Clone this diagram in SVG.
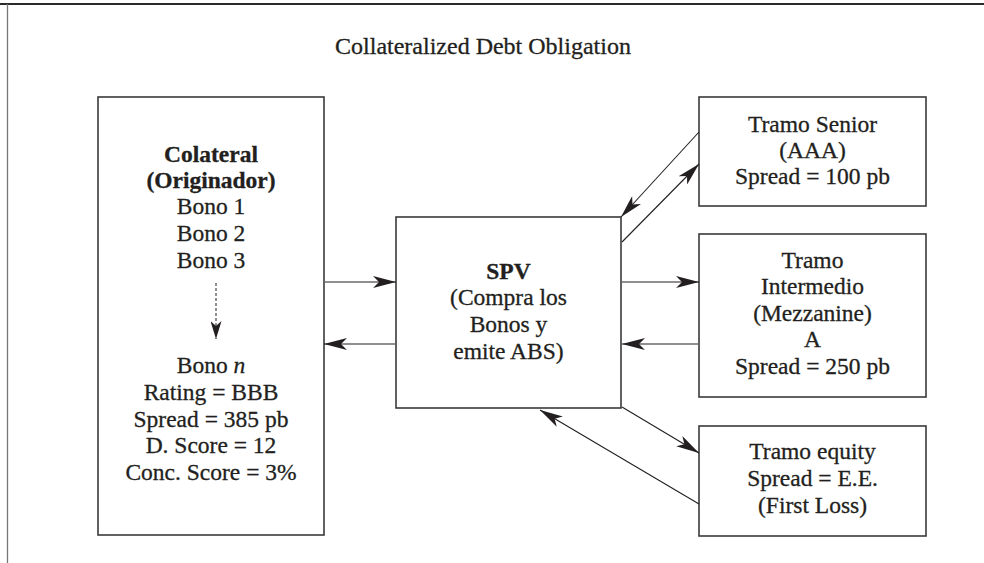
<svg xmlns="http://www.w3.org/2000/svg" width="984" height="563" viewBox="0 0 984 563">
<style>
text{font-family:"Liberation Serif","Times New Roman",serif;font-size:23.5px;fill:#231f20;stroke:#231f20;stroke-width:0.3;text-anchor:middle}
.b{font-weight:bold}
.box{fill:#fff;stroke:#3a3a3a;stroke-width:1.6}
.c{stroke:#231f20;stroke-width:1.1;fill:none;marker-end:url(#ah)}
.d{stroke:#231f20;stroke-width:1;fill:none;stroke-dasharray:3 2;marker-end:url(#ah2)}
</style>
<defs>
<marker id="ah" viewBox="0 0 23 12" refX="23" refY="6" markerWidth="23" markerHeight="12" markerUnits="userSpaceOnUse" orient="auto">
<path d="M0,0 L23,6 L0,12 L6,6 Z" fill="#231f20"/>
</marker>
<marker id="ah2" viewBox="0 0 18 11" refX="18" refY="5.5" markerWidth="18" markerHeight="11" markerUnits="userSpaceOnUse" orient="auto">
<path d="M0,0 L18,5.5 L0,11 L5,5.5 Z" fill="#231f20"/>
</marker>
</defs>
<rect width="984" height="563" fill="#fff"/>
<g id="frame">
<line x1="0" y1="4" x2="984" y2="4" stroke="#2a2a2a" stroke-width="1.8"/>
<line x1="7.5" y1="4" x2="7.5" y2="563" stroke="#777" stroke-width="1.3"/>
</g>
<g id="title"><text x="483" y="54" style="font-size:24px">Collateralized Debt Obligation</text></g>
<g id="colateral">
<rect class="box" x="98" y="97" width="226" height="438"/>
<text class="b" x="211" y="162">Colateral</text>
<text class="b" x="211" y="188">(Originador)</text>
<text x="211" y="214">Bono 1</text>
<text x="211" y="241">Bono 2</text>
<text x="211" y="268">Bono 3</text>
<text x="211" y="373">Bono <tspan font-style="italic">n</tspan></text>
<text x="211" y="400">Rating = BBB</text>
<text x="211" y="427">Spread = 385 pb</text>
<text x="211" y="453">D. Score = 12</text>
<text x="211" y="480">Conc. Score = 3%</text>
</g>
<g id="spv">
<rect class="box" x="396" y="217" width="225" height="191"/>
<text class="b" x="508.5" y="279">SPV</text>
<text x="508.5" y="305">(Compra los</text>
<text x="508.5" y="332">Bonos y</text>
<text x="508.5" y="359">emite ABS)</text>
</g>
<g id="senior">
<rect class="box" x="699" y="97" width="227" height="109"/>
<text x="812.5" y="132">Tramo Senior</text>
<text x="812.5" y="158">(AAA)</text>
<text x="812.5" y="184">Spread = 100 pb</text>
</g>
<g id="intermedio">
<rect class="box" x="699" y="234" width="227" height="163"/>
<text x="812.5" y="268">Tramo</text>
<text x="812.5" y="294">Intermedio</text>
<text x="812.5" y="321">(Mezzanine)</text>
<text x="812.5" y="347">A</text>
<text x="812.5" y="374">Spread = 250 pb</text>
</g>
<g id="equity">
<rect class="box" x="699" y="426" width="227" height="110"/>
<text x="812.5" y="459">Tramo equity</text>
<text x="812.5" y="486">Spread = E.E.</text>
<text x="812.5" y="513">(First Loss)</text>
</g>
<g id="connectors">
<line class="d" x1="216" y1="283" x2="216" y2="339"/>
<line class="c" x1="325" y1="282" x2="396" y2="282"/>
<line class="c" x1="395" y1="344" x2="324" y2="344"/>
<line class="c" x1="622" y1="282" x2="699" y2="282"/>
<line class="c" x1="698" y1="344" x2="622" y2="344"/>
<line class="c" x1="699" y1="132" x2="621" y2="217"/>
<line class="c" x1="622" y1="242" x2="699" y2="164"/>
<line class="c" x1="622" y1="407" x2="699" y2="453"/>
<line class="c" x1="699" y1="504" x2="540" y2="410"/>
</g>
</svg>
